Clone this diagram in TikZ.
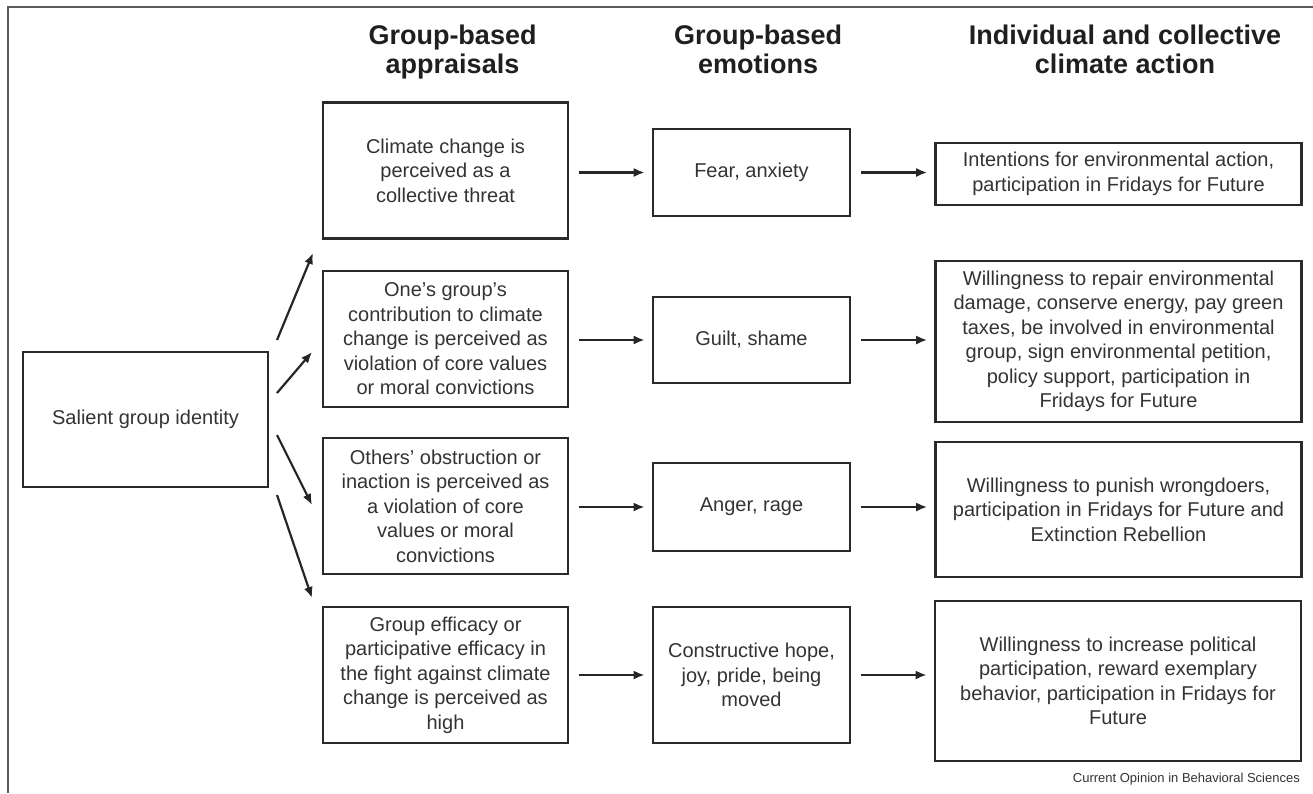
\documentclass[tikz,border=0pt]{standalone}
\usepackage{fontspec}
\setmainfont{Liberation Sans}
\usetikzlibrary{arrows.meta}
\definecolor{boxline}{HTML}{2A2A2A}
\definecolor{boxtext}{HTML}{333333}
\definecolor{frameline}{HTML}{5A5A5A}
\tikzset{
  box/.style     = {shape=rectangle, draw=boxline, line width=2.6pt,
                    align=center, text=boxtext, inner sep=0pt,
                    font=\fontsize{20}{24.5}\selectfont},
  appbox/.style  = {box, minimum width=245pt, minimum height=136pt},
  emobox/.style  = {box, minimum width=197pt},
  actbox/.style  = {box, minimum width=366pt},
  head/.style    = {align=center, anchor=north, inner sep=0pt, text=black!88,
                    font=\fontsize{27}{28.5}\selectfont\bfseries},
  flow/.style    = {draw=black!85, line width=2.2pt, -{Latex[length=11pt,width=9pt]}},
}

\begin{document}
\begin{tikzpicture}
	[
		x = 1pt,
		y = -1pt
	]
	\useasboundingbox (0,0) rectangle (1313,793);
	\draw [frameline, line width=1.5pt] (8,793) -- (8,7) -- (1313,7);

	% column headings
	\node [head] (hap) at (452.5,25) {Group-based\\appraisals};
	\node [head] (hem) at (758,25) {Group-based\\emotions};
	\node [head] (hac) at (1125,25) {Individual and collective\\climate action};

	% left
	\node [box, minimum width=245pt, minimum height=135pt] (sal) at (145.5,419.5) {Salient group identity};

	% appraisals
	\node [appbox] (ap1) at (445.5,170.5) {Climate change is\\perceived as a\\collective threat};
	\node [appbox] (ap2) at (445.5,339) {One’s group’s\\contribution to climate\\change is perceived as\\violation of core values\\or moral convictions};
	\node [appbox] (ap3) at (445.5,506) {Others’ obstruction or\\inaction is perceived as\\a violation of core\\values or moral\\convictions};
	\node [appbox] (ap4) at (445.5,675) {Group efficacy or\\participative efficacy in\\the fight against climate\\change is perceived as\\high};

	% emotions
	\node [emobox, minimum height=87pt] (em1) at (751.5,172.5) {Fear, anxiety};
	\node [emobox, minimum height=86pt] (em2) at (751.5,340) {Guilt, shame};
	\node [emobox, minimum height=88pt] (em3) at (751.5,507) {Anger, rage};
	\node [emobox, minimum height=136pt] (em4) at (751.5,675) {Constructive hope,\\joy, pride, being\\moved};

	% actions
	\node [actbox, minimum height=62pt] (ac1) at (1118.5,174) {Intentions for environmental action,\\participation in Fridays for Future};
	\node [actbox, minimum height=161pt] (ac2) at (1118.5,341.5) {Willingness to repair environmental\\damage, conserve energy, pay green\\taxes, be involved in environmental\\group, sign environmental petition,\\policy support, participation in\\Fridays for Future};
	\node [actbox, minimum height=135pt] (ac3) at (1118.5,509.5) {Willingness to punish wrongdoers,\\participation in Fridays for Future and\\Extinction Rebellion};
	\node [actbox, minimum height=160pt] (ac4) at (1118,681) {Willingness to increase political\\participation, reward exemplary\\behavior, participation in Fridays for\\Future};

	\node [anchor=base east, inner sep=0pt, text=boxtext, font=\fontsize{13}{15}\selectfont] (credit) at (1300,782) {Current Opinion in Behavioral Sciences};

	% fan of arrows out of the identity box
	\coordinate (s1) at (277,340); \coordinate (t1) at (313,253);
	\coordinate (s2) at (277,393); \coordinate (t2) at (312,352);
	\coordinate (s3) at (277,435); \coordinate (t3) at (312,505);
	\coordinate (s4) at (277,495); \coordinate (t4) at (312,598);
	\foreach \i in {1,...,4}
		\draw [flow] (s\i) -- (t\i);

	\foreach \i in {1,...,4} {
		\draw [flow, shorten <=10pt, shorten >=7pt] (ap\i.east |- em\i.west) -- (em\i.west);
		\draw [flow, shorten <=10pt, shorten >=7pt] (em\i.east) -- (ac\i.west |- em\i.east);
	}
\end{tikzpicture}
\end{document}
